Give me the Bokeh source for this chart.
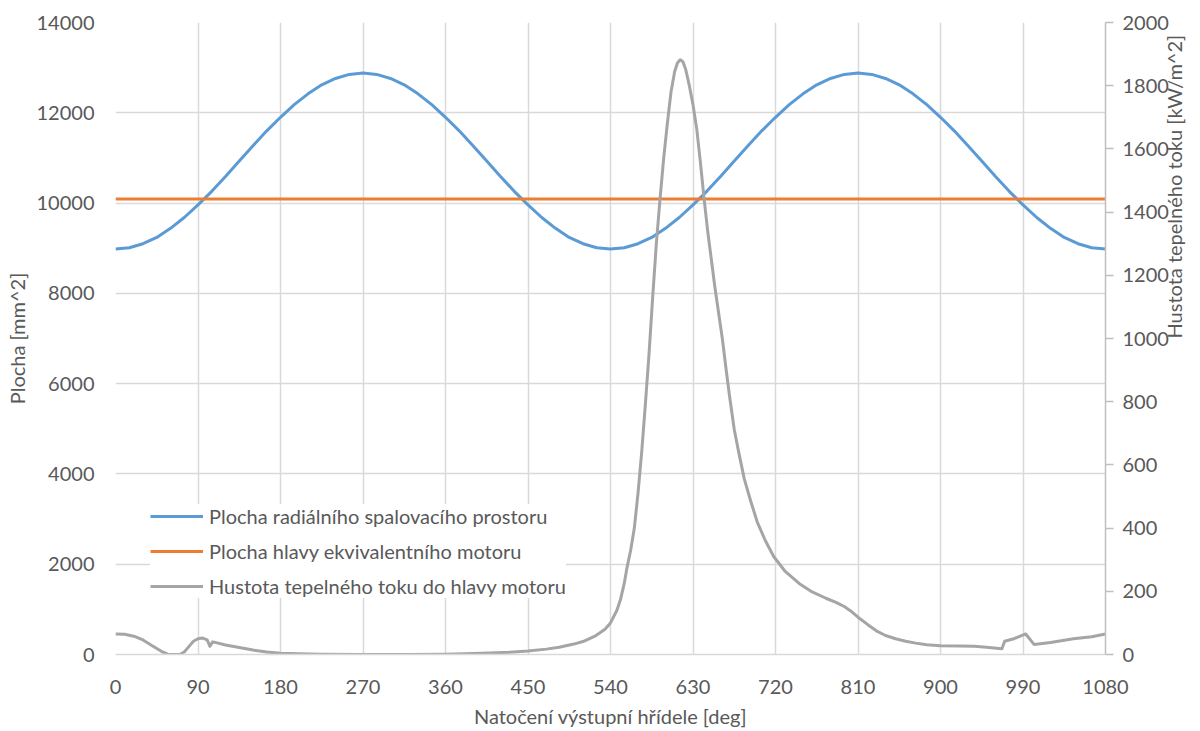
import math
from bokeh.plotting import figure
from bokeh.models import Range1d, LinearAxis, FixedTicker, Legend, LegendItem
from bokeh.embed import file_html
from bokeh.resources import INLINE

# ---- data ----
x_ticks = [0, 90, 180, 270, 360, 450, 540, 630, 720, 810, 900, 990, 1080]
left_ticks = [0, 2000, 4000, 6000, 8000, 10000, 12000, 14000]
right_ticks = [0, 200, 400, 600, 800, 1000, 1200, 1400, 1600, 1800, 2000]

angle_blue = [0, 15, 30, 45, 60, 75, 90, 105, 120, 135, 150, 165, 180, 195, 210, 225, 240, 255,
              270, 285, 300, 315, 330, 345, 360, 375, 390, 405, 420, 435, 450, 465, 480, 495,
              510, 525, 540, 555, 570, 585, 600, 615, 630, 645, 660, 675, 690, 705, 720, 735,
              750, 765, 780, 795, 810, 825, 840, 855, 870, 885, 900, 915, 930, 945, 960, 975,
              990, 1005, 1020, 1035, 1050, 1065, 1080]
plocha_radialni = [8980, 9010, 9100, 9240, 9440, 9680, 9960, 10260, 10590, 10930, 11270, 11600,
                   11900, 12180, 12420, 12620, 12760, 12850, 12880, 12850, 12760, 12620, 12420,
                   12180, 11900, 11600, 11270, 10930, 10590, 10260, 9960, 9680, 9440, 9240, 9100,
                   9010, 8980, 9010, 9100, 9240, 9440, 9680, 9960, 10260, 10590, 10930, 11270,
                   11600, 11900, 12180, 12420, 12620, 12760, 12850, 12880, 12850, 12760, 12620,
                   12420, 12180, 11900, 11600, 11270, 10930, 10590, 10260, 9960, 9680, 9440,
                   9240, 9100, 9010, 8980]

angle_orange = [0, 1080]
plocha_hlavy = [10090, 10090]

angle_gray = [0, 10, 20, 30, 40, 50, 57, 62, 70, 75, 80, 85, 90, 95, 100, 103, 106, 112, 120,
              135, 150, 165, 180, 200, 225, 270, 315, 360, 400, 430, 450, 470, 484, 500, 510,
              523, 534, 540, 547, 551, 555, 558, 562, 566, 570, 574, 578, 582, 586, 590, 594,
              598, 602, 606, 610, 613, 616, 619, 622, 626, 630, 634, 638, 642, 646, 650, 654,
              658, 662, 666, 670, 675, 680, 686, 693, 700, 709, 718, 730, 747, 760,
              775, 786, 795, 802, 810, 820, 830, 840, 851, 862, 873, 885, 900, 920, 937, 950,
              967, 970, 980, 993, 1002, 1020, 1045, 1065, 1080]
hustota = [65, 64, 58, 46, 28, 10, 1, 0, 0, 8, 25, 42, 50, 52, 46, 26, 40, 36, 30,
           22, 14, 8, 4, 2, 1, 0, 0, 1, 4, 7, 11, 17, 23, 33, 41,
           58, 80, 100, 140, 175, 225, 275, 330, 400, 510, 640, 790, 950, 1130, 1300, 1440,
           1570, 1680, 1780, 1845, 1872, 1882, 1876, 1852, 1800, 1740, 1665, 1560, 1445, 1340, 1250, 1160,
           1080, 1000, 905, 815, 712, 638, 555, 485, 420, 360, 310, 265, 222, 198,
           178, 165, 152, 138, 118, 96, 75, 60, 50, 42, 36, 31, 28, 27, 26, 23,
           18, 42, 50, 65, 32, 38, 50, 56, 65]

series_names = ["Plocha radiálního spalovacího prostoru",
                "Plocha hlavy ekvivalentního motoru",
                "Hustota tepelného toku do hlavy motoru"]
colors = ["#5B9BD5", "#ED7D31", "#A5A5A5"]

FONT = "Lato"
TXT = "#595959"
GRID = "#d9d9d9"

p = figure(width=1200, height=731, output_backend="svg", toolbar_location=None,
           x_range=Range1d(0, 1080), y_range=Range1d(0, 14000),
           min_border_left=115, min_border_right=95, min_border_top=22, min_border_bottom=77)
p.extra_y_ranges = {"heat": Range1d(0, 2000)}
p.outline_line_color = None
p.background_fill_color = "white"
p.border_fill_color = "white"

# grid
p.xgrid.ticker = FixedTicker(ticks=x_ticks)
p.ygrid.ticker = FixedTicker(ticks=left_ticks)
for g in (p.xgrid, p.ygrid):
    g.grid_line_color = GRID
    g.grid_line_width = 1.5

# axes
xa = p.xaxis[0]
xa.ticker = FixedTicker(ticks=x_ticks)
xa.axis_label = "Natočení výstupní hřídele [deg]"
xa.axis_line_color = GRID
xa.axis_line_width = 1.5
xa.major_tick_line_color = None
xa.minor_tick_line_color = None
xa.major_label_standoff = 19
xa.axis_label_standoff = 7

ya = p.yaxis[0]
ya.ticker = FixedTicker(ticks=left_ticks)
ya.axis_label = "Plocha [mm^2]"
ya.axis_line_color = None
ya.major_tick_line_color = None
ya.minor_tick_line_color = None
ya.major_label_standoff = 15
ya.axis_label_standoff = 5

ra = LinearAxis(y_range_name="heat", ticker=FixedTicker(ticks=right_ticks),
                axis_label="Hustota tepelného toku [kW/m^2]")
ra.axis_line_color = "#bfbfbf"
ra.axis_line_width = 1.5
ra.major_tick_line_color = "#bfbfbf"
ra.major_tick_line_width = 1.5
ra.major_tick_out = 8
ra.major_tick_in = 0
ra.minor_tick_line_color = None
ra.major_label_standoff = 9
ra.axis_label_standoff = 2
ra.axis_label_orientation = math.pi / 2
p.add_layout(ra, "right")

for ax in (xa, ya, ra):
    ax.major_label_text_font = FONT
    ax.major_label_text_font_size = "20px"
    ax.major_label_text_color = TXT
    ax.axis_label_text_font = FONT
    ax.axis_label_text_font_size = "20px"
    ax.axis_label_text_font_style = "normal"
    ax.axis_label_text_color = TXT

# lines
r1 = p.line(angle_blue, plocha_radialni, line_color=colors[0], line_width=3)
r2 = p.line(angle_orange, plocha_hlavy, line_color=colors[1], line_width=3)
r3 = p.line(angle_gray, hustota, line_color=colors[2], line_width=3, y_range_name="heat",
            line_join="round")

legend = Legend(items=[LegendItem(label=series_names[0], renderers=[r1]),
                       LegendItem(label=series_names[1], renderers=[r2]),
                       LegendItem(label=series_names[2], renderers=[r3])],
                location=(35, 56))
legend.background_fill_color = "white"
legend.background_fill_alpha = 1.0
legend.border_line_color = None
legend.label_text_font = FONT
legend.label_text_font_size = "20px"
legend.label_text_color = TXT
legend.glyph_width = 53
legend.glyph_height = 20
legend.label_height = 20
legend.label_standoff = 6
legend.spacing = 11
legend.padding = 14
legend.margin = 0
p.add_layout(legend, "center")

open("out.html", "w").write(file_html(p, INLINE))
